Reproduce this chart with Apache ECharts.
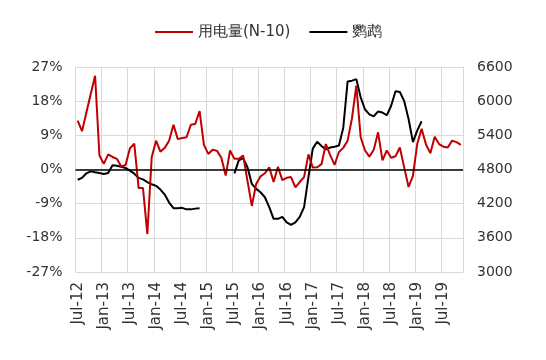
<!DOCTYPE html>
<html>
<head>
<meta charset="utf-8">
<script src="https://cdn.jsdelivr.net/npm/echarts@6/dist/echarts.min.js"></script>
<style>html,body{margin:0;padding:0;background:#fff;}#c{width:546px;height:360px;}</style>
</head>
<body>
<div id="c"></div>
<script>
var categories = [
 'Jul-12','Aug-12','Sep-12','Oct-12','Nov-12','Dec-12',
 'Jan-13','Feb-13','Mar-13','Apr-13','May-13','Jun-13','Jul-13','Aug-13','Sep-13','Oct-13','Nov-13','Dec-13',
 'Jan-14','Feb-14','Mar-14','Apr-14','May-14','Jun-14','Jul-14','Aug-14','Sep-14','Oct-14','Nov-14','Dec-14',
 'Jan-15','Feb-15','Mar-15','Apr-15','May-15','Jun-15','Jul-15','Aug-15','Sep-15','Oct-15','Nov-15','Dec-15',
 'Jan-16','Feb-16','Mar-16','Apr-16','May-16','Jun-16','Jul-16','Aug-16','Sep-16','Oct-16','Nov-16','Dec-16',
 'Jan-17','Feb-17','Mar-17','Apr-17','May-17','Jun-17','Jul-17','Aug-17','Sep-17','Oct-17','Nov-17','Dec-17',
 'Jan-18','Feb-18','Mar-18','Apr-18','May-18','Jun-18','Jul-18','Aug-18','Sep-18','Oct-18','Nov-18','Dec-18',
 'Jan-19','Feb-19','Mar-19','Apr-19','May-19','Jun-19','Jul-19','Aug-19','Sep-19','Oct-19','Nov-19'
];
// 用电量(N-10), % (left axis)
var powerUse = [
 12.9,10.1,15.0,19.9,24.7,3.7,
 1.5,4.0,3.3,2.8,0.8,1.2,5.6,6.8,-4.9,-4.9,-17.0,3.2,
 7.6,4.7,5.7,7.6,11.8,8.0,8.3,8.5,11.8,12.0,15.4,6.5,
 4.1,5.2,4.9,3.1,-1.6,5.0,2.8,2.8,3.7,-3.0,-9.6,-3.8,
 -1.8,-1.0,0.6,-3.3,0.7,-2.8,-2.2,-2.0,-4.7,-3.3,-2.0,4.0,
 0.5,0.6,1.4,6.7,3.8,1.2,4.6,5.7,7.6,13.5,22.1,8.5,
 5.0,3.4,5.2,9.8,2.4,5.0,3.1,3.5,5.8,0.5,-4.6,-1.7,
 6.8,10.7,6.6,4.3,8.6,6.7,6.0,5.8,7.6,7.2,6.5
];
// 鹦鹉 (right axis)
var parrot = [
 4620,4653,4733,4767,4753,4740,
 4720,4740,4873,4867,4847,4827,4780,4727,4653,4627,4580,4540,
 4513,4447,4360,4220,4120,4120,4127,4100,4100,4113,4120,null,
 null,null,null,null,null,null,4733,4960,5000,4840,4547,4460,
 4400,4313,4140,3933,3933,3967,3873,3827,3873,3967,4140,4667,
 5167,5287,5213,5153,5187,5200,5220,5533,6347,6360,6387,6067,
 5853,5767,5733,5820,5800,5753,5920,6173,6160,6000,5687,5280,
 5487,5647,null,null,null,null,null,null,null,null,null
];
var leftTicks = {min: -27, max: 27, interval: 9};
var rightTicks = {min: 3000, max: 6600, interval: 600};

var chart = echarts.init(document.getElementById('c'));
var txt = '#333333';
var font = 'DejaVu Sans';
chart.setOption({
  backgroundColor: '#ffffff',
  animation: false,
  textStyle: {fontFamily: font},
  legend: {
    left: 150, top: 19,
    icon: 'rect',
    itemWidth: 38, itemHeight: 2, itemGap: 19,
    textStyle: {fontSize: 15, color: txt, fontFamily: font, lineHeight: 16},
    data: ['用电量(N-10)', '鹦鹉']
  },
  grid: {left: 75.5, right: 83, top: 67, bottom: 88},
  xAxis: {
    type: 'category',
    data: categories,
    boundaryGap: true,
    axisLine: {show: true, lineStyle: {color: '#d9d9d9', width: 1}},
    axisTick: {show: false},
    axisLabel: {interval: 5, rotate: 90, fontSize: 15, color: txt, margin: 10, fontFamily: font},
    splitLine: {show: true, interval: 5, lineStyle: {color: '#d9d9d9', width: 1}}
  },
  yAxis: [{
    type: 'value',
    min: leftTicks.min, max: leftTicks.max, interval: leftTicks.interval,
    axisLine: {show: false},
    axisTick: {show: false},
    axisLabel: {formatter: '{value}%', fontSize: 14, color: txt, margin: 13, fontFamily: font},
    splitLine: {show: true, lineStyle: {color: '#d9d9d9', width: 1}}
  }, {
    type: 'value',
    min: rightTicks.min, max: rightTicks.max, interval: rightTicks.interval,
    position: 'right',
    axisLine: {show: true, lineStyle: {color: '#d9d9d9', width: 1}},
    axisTick: {show: false},
    axisLabel: {formatter: function (v) { return String(v); }, fontSize: 14, color: txt, margin: 14, fontFamily: font},
    splitLine: {show: false}
  }],
  series: [{
    name: '用电量(N-10)',
    type: 'line',
    yAxisIndex: 0,
    data: powerUse,
    symbol: 'none',
    lineStyle: {color: '#C00000', width: 2},
    itemStyle: {color: '#C00000'},
    markLine: {
      silent: true, symbol: 'none', label: {show: false},
      lineStyle: {color: '#000000', width: 1.5, type: 'solid'},
      data: [{yAxis: 0}]
    },
    z: 3
  }, {
    name: '鹦鹉',
    type: 'line',
    yAxisIndex: 1,
    data: parrot,
    symbol: 'none',
    connectNulls: false,
    lineStyle: {color: '#000000', width: 2},
    itemStyle: {color: '#000000'},
    z: 2
  }]
});
</script>
</body>
</html>
